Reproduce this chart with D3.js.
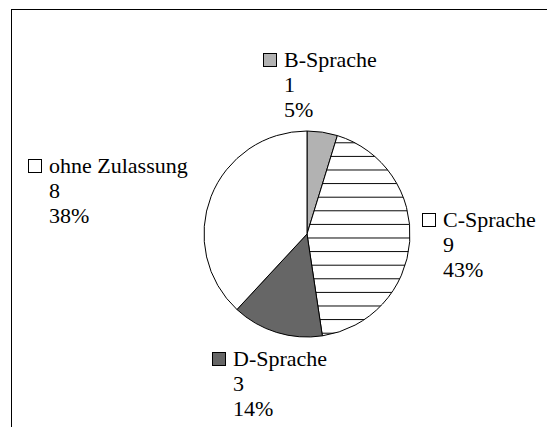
<!DOCTYPE html>
<html><head><meta charset="utf-8">
<script src="https://cdn.jsdelivr.net/npm/d3@7"></script>
<style>body{margin:0;background:#fff}</style>
</head><body>
<script>
const categories = ["B-Sprache", "C-Sprache", "D-Sprache", "ohne Zulassung"];
const values = [1, 9, 3, 8];
const percentLabels = ["5%", "43%", "14%", "38%"];
const fills = ["#b2b2b2", "url(#hatch)", "#666666", "#ffffff"];
const swatchFills = ["#b2b2b2", "#ffffff", "#666666", "#ffffff"];
// label anchor (top-left of swatch) layout
const labelPos = [[263, 53], [422, 213], [212, 352], [28, 159]];

const W = 547, H = 427;
const svg = d3.select("body").append("svg").attr("width", W).attr("height", H);
const defs = svg.append("defs");
const pat = defs.append("pattern").attr("id", "hatch").attr("patternUnits", "userSpaceOnUse")
  .attr("x", 0).attr("y", 3.5).attr("width", 10).attr("height", 13.6);
pat.append("rect").attr("width", 10).attr("height", 13.6).attr("fill", "#fff");
pat.append("line").attr("x1", 0).attr("x2", 10).attr("y1", 0.5).attr("y2", 0.5)
  .attr("stroke", "#000").attr("stroke-width", 1);

svg.append("rect").attr("x", 11.5).attr("y", 9.5).attr("width", 700).attr("height", 600)
  .attr("fill", "none").attr("stroke", "#000").attr("stroke-width", 1);

const cx = 307, cy = 234, r = 103;
const pie = d3.pie().sort(null).value(d => d)(values);
const arc = d3.arc().innerRadius(0).outerRadius(r);
const g = svg.append("g").attr("transform", `translate(${cx},${cy})`);
g.selectAll("path").data(pie).join("path")
  .attr("d", arc).attr("fill", (d, i) => fills[i])
  .attr("stroke", "#000").attr("stroke-width", 1);

categories.forEach((c, i) => {
  const [x, y] = labelPos[i];
  svg.append("rect").attr("x", x + 0.5).attr("y", y + 0.5).attr("width", 13).attr("height", 13)
    .attr("fill", swatchFills[i]).attr("stroke", "#000").attr("stroke-width", 1);
  [c, String(values[i]), percentLabels[i]].forEach((s, k) => {
    svg.append("text").attr("x", x + 21).attr("y", y + 14 + k * 25)
      .attr("font-family", "Liberation Serif, Times New Roman, serif")
      .attr("font-size", 22)
      .text(s);
  });
});
</script>
</body></html>
